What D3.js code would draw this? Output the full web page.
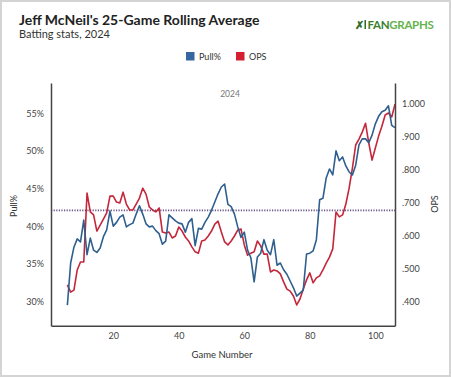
<!DOCTYPE html>
<html>
<head>
<meta charset="utf-8">
<script src="https://cdn.jsdelivr.net/npm/d3@7"></script>
<style>
  body { margin: 0; background: #fff; }
  text { font-family: Lato, "Open Sans", sans-serif; }
</style>
</head>
<body>
<div id="chart"></div>
<script>
// Game numbers (x)
const games = [6, 7, 8, 9, 10, 11, 12, 13, 14, 15, 16, 17, 18, 19, 20, 21, 22, 23, 24, 25,
  26, 27, 28, 29, 30, 31, 32, 33, 34, 35, 36, 37, 38, 39, 40, 41, 42, 43, 44, 45,
  46, 47, 48, 49, 50, 51, 52, 53, 54, 55, 56, 57, 58, 59, 60, 61, 62, 63, 64, 65,
  66, 67, 68, 69, 70, 71, 72, 73, 74, 75, 76, 77, 78, 79, 80, 81, 82, 83, 84, 85,
  86, 87, 88, 89, 90, 91, 92, 93, 94, 95, 96, 97, 98, 99, 100, 101, 102, 103, 104, 105, 106];

// Pull% rolling average (left axis)
const pullPct = [29.5, 35.1, 37.2, 38.3, 37.9, 40.8, 36.2, 38.4, 36.8, 36.5, 37.1, 38.6, 39.5, 42.0, 40.0,
  40.5, 41.2, 41.5, 39.9, 40.2, 40.4, 41.6, 42.7, 41.6, 40.3, 39.9, 40.0, 39.4, 39.0, 37.6,
  38.0, 41.5, 41.1, 40.7, 40.4, 40.3, 39.2, 40.5, 41.0, 37.4, 39.7, 39.6, 40.5, 41.2, 42.1,
  43.2, 44.3, 45.2, 45.6, 42.9, 42.6, 41.6, 39.9, 38.5, 39.2, 36.8, 35.8, 32.6, 35.9, 36.4,
  38.2, 36.8, 36.2, 38.2, 34.8, 35.1, 34.2, 33.6, 32.7, 31.8, 30.7, 31.1, 31.5, 36.3, 36.4,
  36.7, 38.2, 43.5, 43.7, 46.4, 47.6, 46.8, 50.0, 48.7, 49.2, 48.0, 47.2, 46.8, 48.1, 50.8,
  51.6, 51.6, 51.1, 52.1, 53.6, 54.6, 55.2, 55.4, 56.0, 53.4, 53.1];

// OPS rolling average (right axis)
const ops = [0.452, 0.430, 0.436, 0.497, 0.521, 0.521, 0.730, 0.673, 0.664, 0.615, 0.633, 0.651, 0.670, 0.721, 0.721,
  0.703, 0.700, 0.733, 0.697, 0.679, 0.679, 0.697, 0.715, 0.745, 0.727, 0.688, 0.679, 0.673, 0.685, 0.612,
  0.609, 0.612, 0.594, 0.600, 0.627, 0.615, 0.597, 0.585, 0.567, 0.552, 0.548, 0.585, 0.588, 0.600, 0.615,
  0.636, 0.645, 0.612, 0.582, 0.573, 0.585, 0.600, 0.618, 0.621, 0.573, 0.542, 0.548, 0.552, 0.585, 0.570,
  0.545, 0.545, 0.491, 0.497, 0.494, 0.485, 0.461, 0.439, 0.433, 0.418, 0.391, 0.409, 0.439, 0.467, 0.488,
  0.458, 0.473, 0.479, 0.497, 0.518, 0.536, 0.561, 0.673, 0.658, 0.664, 0.697, 0.745, 0.806, 0.876, 0.894,
  0.915, 0.942, 0.882, 0.830, 0.867, 0.903, 0.933, 0.967, 0.973, 0.961, 1.000];

const leagueAvgPull = 42.1;

const xTicks = [20, 40, 60, 80, 100];
const pullTicks = [30, 35, 40, 45, 50, 55];
const opsTicks = [0.4, 0.5, 0.6, 0.7, 0.8, 0.9, 1.0];

const W = 451, H = 377;
const plot = { left: 51, right: 395, top: 83, bottom: 325.7 };
const blue = "#2f5f8e", red = "#c4263a";

const svg = d3.select("#chart").append("svg")
  .attr("width", W)
  .attr("height", H);

// frame
svg.append("rect")
  .attr("x", 1).attr("y", 1)
  .attr("width", W - 2).attr("height", H - 2)
  .attr("fill", "#fff")
  .attr("stroke", "#d4d4d4")
  .attr("stroke-width", 2);

// scales
const x = d3.scaleLinear().domain([1, 106]).range([plot.left, plot.right]);
const yL = d3.scaleLinear().domain([26.76, 59.03]).range([plot.bottom, plot.top]);
const yR = d3.scaleLinear().domain([0.328, 1.064]).range([plot.bottom, plot.top]);

// title block
svg.append("text")
  .attr("x", 19).attr("y", 25)
  .attr("font-size", "14px")
  .attr("font-weight", "bold")
  .attr("fill", "#222")
  .text("Jeff McNeil's 25-Game Rolling Average");

svg.append("text")
  .attr("x", 19).attr("y", 38)
  .attr("font-size", "11px")
  .attr("fill", "#333")
  .text("Batting stats, 2024");

// FanGraphs logo (text version)
const logo = svg.append("g").attr("transform", "translate(355,28.5)");
logo.append("text")
  .attr("x", 0).attr("y", 0)
  .attr("font-size", "11px")
  .attr("font-weight", "bold")
  .attr("fill", "#2f6b25")
  .text("✗");
logo.append("rect")
  .attr("x", 9.5).attr("y", -8.5)
  .attr("width", 1.5).attr("height", 9)
  .attr("fill", "#2f6b25");
const logoText = logo.append("text")
  .attr("x", 12.5).attr("y", 0)
  .attr("font-size", "11.5px")
  .attr("font-weight", "bold")
  .attr("letter-spacing", "-0.3px");
logoText.append("tspan").attr("fill", "#3a7f2e").text("FAN");
logoText.append("tspan").attr("fill", "#66b34c").text("GRAPHS");

// legend
const legendItems = [
  { label: "Pull%", color: "#3568a0", x: 186 },
  { label: "OPS", color: "#d22030", x: 236 }
];
const legend = svg.append("g");
legend.selectAll("rect")
  .data(legendItems)
  .enter()
  .append("rect")
  .attr("x", d => d.x).attr("y", 52)
  .attr("width", 8.5).attr("height", 8.5)
  .attr("fill", d => d.color);
legend.selectAll("text")
  .data(legendItems)
  .enter()
  .append("text")
  .attr("x", d => d.x + 13).attr("y", 60)
  .attr("font-size", "9px")
  .attr("fill", "#333")
  .text(d => d.label);

// "2024" season label
svg.append("text")
  .attr("x", 230).attr("y", 97)
  .attr("text-anchor", "middle")
  .attr("font-size", "8.5px")
  .attr("fill", "#777")
  .text("2024");

// league average dotted line
svg.append("line")
  .attr("x1", plot.left).attr("x2", plot.right)
  .attr("y1", yL(leagueAvgPull)).attr("y2", yL(leagueAvgPull))
  .attr("stroke", "#6a5188")
  .attr("stroke-width", 1.6)
  .attr("stroke-dasharray", "1.2,1.4");

// lines
const rows = games.map((g, i) => ({ game: g, pull: pullPct[i], ops: ops[i] }));

svg.append("path")
  .datum(rows)
  .attr("fill", "none")
  .attr("stroke", red)
  .attr("stroke-width", 1.6)
  .attr("stroke-linejoin", "round")
  .attr("d", d3.line().x(d => x(d.game)).y(d => yR(d.ops)));

svg.append("path")
  .datum(rows)
  .attr("fill", "none")
  .attr("stroke", blue)
  .attr("stroke-width", 1.6)
  .attr("stroke-linejoin", "round")
  .attr("d", d3.line().x(d => x(d.game)).y(d => yL(d.pull)));

// axes
function styleAxis(g) {
  g.select(".domain").attr("stroke", "#444").attr("stroke-width", 1.5);
  g.selectAll(".tick line").remove();
  g.selectAll("text")
    .attr("font-family", "Lato, sans-serif")
    .attr("font-size", "9px")
    .attr("fill", "#444");
}

svg.append("g")
  .attr("transform", `translate(0,${plot.bottom})`)
  .call(d3.axisBottom(x).tickValues(xTicks).tickSize(0).tickSizeOuter(0).tickPadding(7))
  .call(styleAxis);

svg.append("g")
  .attr("transform", `translate(${plot.left},0)`)
  .call(d3.axisLeft(yL).tickValues(pullTicks).tickFormat(d => d + "%").tickSize(0).tickSizeOuter(0).tickPadding(7))
  .call(styleAxis);

svg.append("g")
  .attr("transform", `translate(${plot.right},0)`)
  .call(d3.axisRight(yR).tickValues(opsTicks)
    .tickFormat(d => d3.format(".3f")(d).replace(/^0/, "")).tickSize(0).tickSizeOuter(0).tickPadding(7))
  .call(styleAxis);

// axis titles
svg.append("text")
  .attr("transform", "translate(17,206) rotate(-90)")
  .attr("text-anchor", "middle")
  .attr("font-size", "9px")
  .attr("fill", "#333")
  .text("Pull%");

svg.append("text")
  .attr("transform", "translate(438,204) rotate(-90)")
  .attr("text-anchor", "middle")
  .attr("font-size", "9px")
  .attr("fill", "#333")
  .text("OPS");

svg.append("text")
  .attr("x", 222).attr("y", 358)
  .attr("text-anchor", "middle")
  .attr("font-size", "9.5px")
  .attr("fill", "#333")
  .text("Game Number");
</script>
</body>
</html>
